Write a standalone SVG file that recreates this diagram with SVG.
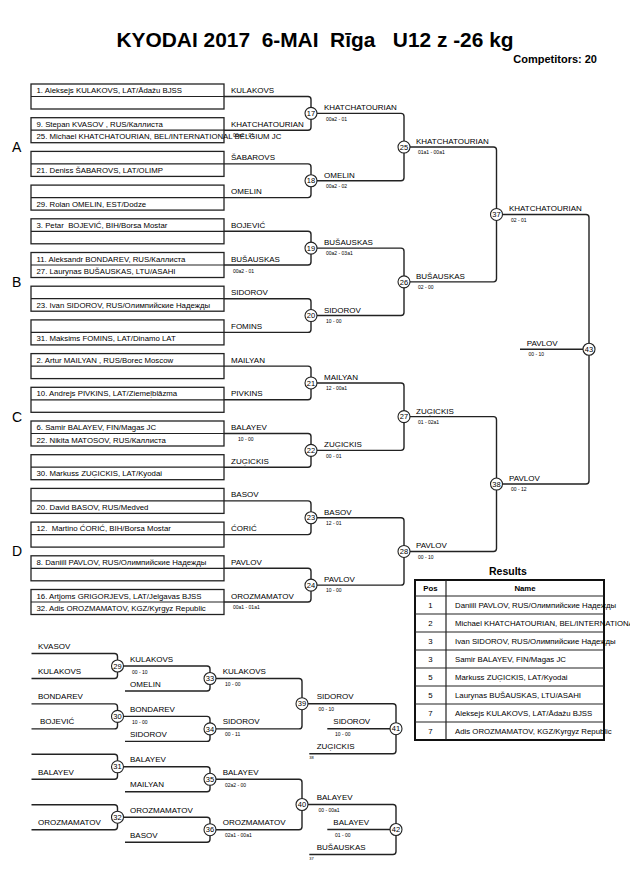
<svg xmlns="http://www.w3.org/2000/svg" width="630" height="891" viewBox="0 0 630 891">
<style>
text{font-family:"Liberation Sans",Arial,sans-serif;fill:#000}
.bx{fill:none;stroke:#222;stroke-width:1.3}
.dv{stroke:#222;stroke-width:1.2}
.ln{fill:none;stroke:#222;stroke-width:1.4}
.lb{font-size:8px}
.sc{font-size:5px}
.bt{font-size:7.8px}
.cn{fill:#fff;stroke:#222;stroke-width:1.1}
.cnt{font-size:7.5px;text-anchor:middle}
.pl{font-size:14px}
.tiny{font-size:4px}
.tb{font-size:7.8px}
</style>
<rect width="630" height="891" fill="#fff"/>
<g id="title">
<text x="116.5" y="46.5" font-size="20.9" font-weight="bold" xml:space="preserve">KYODAI 2017  6-MAI  Rīga   U12 z -26 kg</text>
<text x="597" y="63" font-size="11" font-weight="bold" text-anchor="end">Competitors: 20</text>
</g>
<g id="pools">
<text class="pl" x="12" y="152">A</text>
<text class="pl" x="12" y="287">B</text>
<text class="pl" x="12" y="421.5">C</text>
<text class="pl" x="12" y="556">D</text>
</g>
<g id="connectors">
<path class="ln" d="M224,96.5 H308 Q311,96.5 311,99.5 V127.2 Q311,130.2 308,130.2 H224"/>
<path class="ln" d="M224,163.9 H308 Q311,163.9 311,166.9 V194.6 Q311,197.6 308,197.6 H224"/>
<path class="ln" d="M224,231.3 H308 Q311,231.3 311,234.3 V262 Q311,265 308,265 H224"/>
<path class="ln" d="M224,298.7 H308 Q311,298.7 311,301.7 V329.4 Q311,332.4 308,332.4 H224"/>
<path class="ln" d="M224,366.1 H308 Q311,366.1 311,369.1 V396.8 Q311,399.8 308,399.8 H224"/>
<path class="ln" d="M224,433.5 H308 Q311,433.5 311,436.5 V464.2 Q311,467.2 308,467.2 H224"/>
<path class="ln" d="M224,500.9 H308 Q311,500.9 311,503.9 V531.6 Q311,534.6 308,534.6 H224"/>
<path class="ln" d="M224,568.3 H308 Q311,568.3 311,571.3 V599 Q311,602 308,602 H224"/>
<path class="ln" d="M311,113.35 H401 Q404,113.35 404,116.35 V177.75 Q404,180.75 401,180.75 H311"/>
<path class="ln" d="M311,248.15 H401 Q404,248.15 404,251.15 V312.55 Q404,315.55 401,315.55 H311"/>
<path class="ln" d="M311,382.95 H401 Q404,382.95 404,385.95 V447.35 Q404,450.35 401,450.35 H311"/>
<path class="ln" d="M311,517.75 H401 Q404,517.75 404,520.75 V582.15 Q404,585.15 401,585.15 H311"/>
<path class="ln" d="M404,147.05 H493.5 Q496.5,147.05 496.5,150.05 V278.85 Q496.5,281.85 493.5,281.85 H404"/>
<path class="ln" d="M404,416.65 H493.5 Q496.5,416.65 496.5,419.65 V548.45 Q496.5,551.45 493.5,551.45 H404"/>
<path class="ln" d="M496.5,214.45 H586 Q589,214.45 589,217.45 V481.05 Q589,484.05 586,484.05 H496.5"/>
<path class="ln" d="M520,349.25 H589"/>
<path class="ln" d="M31.5,653.5 H114.5 Q117.5,653.5 117.5,656.5 V675.5 Q117.5,678.5 114.5,678.5 H31.5"/>
<path class="ln" d="M31.5,703.9 H114.5 Q117.5,703.9 117.5,706.9 V725.9 Q117.5,728.9 114.5,728.9 H31.5"/>
<path class="ln" d="M31.5,754.3 H114.5 Q117.5,754.3 117.5,757.3 V776.3 Q117.5,779.3 114.5,779.3 H31.5"/>
<path class="ln" d="M31.5,804.7 H114.5 Q117.5,804.7 117.5,807.7 V826.7 Q117.5,829.7 114.5,829.7 H31.5"/>
<path class="ln" d="M117.5,666 H207 Q210,666 210,669 V688 Q210,691 207,691 H125"/>
<path class="ln" d="M117.5,716.4 H207 Q210,716.4 210,719.4 V738.4 Q210,741.4 207,741.4 H125"/>
<path class="ln" d="M117.5,766.8 H207 Q210,766.8 210,769.8 V788.8 Q210,791.8 207,791.8 H125"/>
<path class="ln" d="M117.5,817.2 H207 Q210,817.2 210,820.2 V839.2 Q210,842.2 207,842.2 H125"/>
<path class="ln" d="M210,678.5 H299 Q302,678.5 302,681.5 V725.9 Q302,728.9 299,728.9 H210"/>
<path class="ln" d="M210,779.3 H299 Q302,779.3 302,782.3 V826.7 Q302,829.7 299,829.7 H210"/>
<path class="ln" d="M302,703.7 H393 Q396,703.7 396,706.7 V750.7 Q396,753.7 393,753.7 H309.3"/>
<path class="ln" d="M327.3,728.7 H396"/>
<path class="ln" d="M302,804.5 H393 Q396,804.5 396,807.5 V851.5 Q396,854.5 393,854.5 H309.3"/>
<path class="ln" d="M327.3,829.5 H396"/>
</g>
<g id="box0"><rect class="bx" x="31" y="84" width="193" height="25"/><line class="dv" x1="31" y1="96.5" x2="224" y2="96.5"/><text class="bt" x="36.5" y="93">1. Aleksejs KULAKOVS, LAT/Ādažu BJSS</text><text class="lb" x="231" y="93">KULAKOVS</text></g>
<g id="box1"><rect class="bx" x="31" y="117.7" width="193" height="25"/><line class="dv" x1="31" y1="130.2" x2="224" y2="130.2"/><text class="bt" x="36.5" y="126.7">9. Stepan KVASOV , RUS/Каллиста</text><text class="bt" x="36.5" y="139.2">25. Michael KHATCHATOURIAN, BEL/INTERNATIONAL BELGIUM JC</text><text class="lb" x="231" y="126.7">KHATCHATOURIAN</text><text class="sc" x="233" y="136.5">00a2 - 01</text></g>
<g id="box2"><rect class="bx" x="31" y="151.4" width="193" height="25"/><line class="dv" x1="31" y1="163.9" x2="224" y2="163.9"/><text class="bt" x="36.5" y="172.9">21. Deniss ŠABAROVS, LAT/OLIMP</text><text class="lb" x="231" y="160.4">ŠABAROVS</text></g>
<g id="box3"><rect class="bx" x="31" y="185.1" width="193" height="25"/><line class="dv" x1="31" y1="197.6" x2="224" y2="197.6"/><text class="bt" x="36.5" y="206.6">29. Rolan OMELIN, EST/Dodze</text><text class="lb" x="231" y="194.1">OMELIN</text></g>
<g id="box4"><rect class="bx" x="31" y="218.8" width="193" height="25"/><line class="dv" x1="31" y1="231.3" x2="224" y2="231.3"/><text class="bt" x="36.5" y="227.8" xml:space="preserve">3. Petar  BOJEVIĆ, BIH/Borsa Mostar</text><text class="lb" x="231" y="227.8">BOJEVIĆ</text></g>
<g id="box5"><rect class="bx" x="31" y="252.5" width="193" height="25"/><line class="dv" x1="31" y1="265" x2="224" y2="265"/><text class="bt" x="36.5" y="261.5">11. Aleksandr BONDAREV, RUS/Каллиста</text><text class="bt" x="36.5" y="274">27. Laurynas BUŠAUSKAS, LTU/ASAHI</text><text class="lb" x="231" y="261.5">BUŠAUSKAS</text><text class="sc" x="233" y="272.5">00a2 - 01</text></g>
<g id="box6"><rect class="bx" x="31" y="286.2" width="193" height="25"/><line class="dv" x1="31" y1="298.7" x2="224" y2="298.7"/><text class="bt" x="36.5" y="307.7">23. Ivan SIDOROV, RUS/Олимпийские Надежды</text><text class="lb" x="231" y="295.2">SIDOROV</text></g>
<g id="box7"><rect class="bx" x="31" y="319.9" width="193" height="25"/><line class="dv" x1="31" y1="332.4" x2="224" y2="332.4"/><text class="bt" x="36.5" y="341.4">31. Maksims FOMINS, LAT/Dinamo LAT</text><text class="lb" x="231" y="328.9">FOMINS</text></g>
<g id="box8"><rect class="bx" x="31" y="353.6" width="193" height="25"/><line class="dv" x1="31" y1="366.1" x2="224" y2="366.1"/><text class="bt" x="36.5" y="362.6">2. Artur MAILYAN , RUS/Borec Moscow</text><text class="lb" x="231" y="362.6">MAILYAN</text></g>
<g id="box9"><rect class="bx" x="31" y="387.3" width="193" height="25"/><line class="dv" x1="31" y1="399.8" x2="224" y2="399.8"/><text class="bt" x="36.5" y="396.3">10. Andrejs PIVKINS, LAT/Ziemeļblāzma</text><text class="lb" x="231" y="396.3">PIVKINS</text></g>
<g id="box10"><rect class="bx" x="31" y="421" width="193" height="25"/><line class="dv" x1="31" y1="433.5" x2="224" y2="433.5"/><text class="bt" x="36.5" y="430">6. Samir BALAYEV, FIN/Magas JC</text><text class="bt" x="36.5" y="442.5">22. Nikita MATOSOV, RUS/Каллиста</text><text class="lb" x="231" y="430">BALAYEV</text><text class="sc" x="238" y="440.5">10 - 00</text></g>
<g id="box11"><rect class="bx" x="31" y="454.7" width="193" height="25"/><line class="dv" x1="31" y1="467.2" x2="224" y2="467.2"/><text class="bt" x="36.5" y="476.2">30. Markuss ZUĢICKIS, LAT/Kyodai</text><text class="lb" x="231" y="463.7">ZUĢICKIS</text></g>
<g id="box12"><rect class="bx" x="31" y="488.4" width="193" height="25"/><line class="dv" x1="31" y1="500.9" x2="224" y2="500.9"/><text class="bt" x="36.5" y="509.9">20. David BASOV, RUS/Medved</text><text class="lb" x="231" y="497.4">BASOV</text></g>
<g id="box13"><rect class="bx" x="31" y="522.1" width="193" height="25"/><line class="dv" x1="31" y1="534.6" x2="224" y2="534.6"/><text class="bt" x="36.5" y="531.1" xml:space="preserve">12.  Martino ĆORIĆ, BIH/Borsa Mostar</text><text class="lb" x="231" y="531.1">ĆORIĆ</text></g>
<g id="box14"><rect class="bx" x="31" y="555.8" width="193" height="25"/><line class="dv" x1="31" y1="568.3" x2="224" y2="568.3"/><text class="bt" x="36.5" y="564.8">8. Daniill PAVLOV, RUS/Олимпийские Надежды</text><text class="lb" x="231" y="564.8">PAVLOV</text></g>
<g id="box15"><rect class="bx" x="31" y="589.5" width="193" height="25"/><line class="dv" x1="31" y1="602" x2="224" y2="602"/><text class="bt" x="36.5" y="598.5">16. Artjoms GRIGORJEVS, LAT/Jelgavas BJSS</text><text class="bt" x="36.5" y="611">32. Adis OROZMAMATOV, KGZ/Kyrgyz Republic</text><text class="lb" x="231" y="598.5">OROZMAMATOV</text><text class="sc" x="233" y="608.5">00a1 - 01a1</text></g>
<g id="m17"><circle class="cn" cx="311" cy="113.35" r="6"/><text class="cnt" x="311" y="116">17</text><text class="lb" x="324" y="110.35">KHATCHATOURIAN</text><text class="sc" x="326" y="120.5">00a2 - 01</text></g>
<g id="m18"><circle class="cn" cx="311" cy="180.75" r="6"/><text class="cnt" x="311" y="183.4">18</text><text class="lb" x="324" y="177.75">OMELIN</text><text class="sc" x="326" y="187.9">00a2 - 02</text></g>
<g id="m19"><circle class="cn" cx="311" cy="248.15" r="6"/><text class="cnt" x="311" y="250.8">19</text><text class="lb" x="324" y="245.15">BUŠAUSKAS</text><text class="sc" x="326" y="255.3">00a2 - 03a1</text></g>
<g id="m20"><circle class="cn" cx="311" cy="315.55" r="6"/><text class="cnt" x="311" y="318.2">20</text><text class="lb" x="324" y="312.55">SIDOROV</text><text class="sc" x="326" y="322.7">10 - 00</text></g>
<g id="m21"><circle class="cn" cx="311" cy="382.95" r="6"/><text class="cnt" x="311" y="385.6">21</text><text class="lb" x="324" y="379.95">MAILYAN</text><text class="sc" x="326" y="390.1">12 - 00a1</text></g>
<g id="m22"><circle class="cn" cx="311" cy="450.35" r="6"/><text class="cnt" x="311" y="453">22</text><text class="lb" x="324" y="447.35">ZUĢICKIS</text><text class="sc" x="326" y="457.5">00 - 01</text></g>
<g id="m23"><circle class="cn" cx="311" cy="517.75" r="6"/><text class="cnt" x="311" y="520.4">23</text><text class="lb" x="324" y="514.75">BASOV</text><text class="sc" x="326" y="524.9">12 - 01</text></g>
<g id="m24"><circle class="cn" cx="311" cy="585.15" r="6"/><text class="cnt" x="311" y="587.8">24</text><text class="lb" x="324" y="582.15">PAVLOV</text><text class="sc" x="326" y="592.3">10 - 00</text></g>
<g id="m25"><circle class="cn" cx="404" cy="147.05" r="6"/><text class="cnt" x="404" y="149.7">25</text><text class="lb" x="416" y="144.05">KHATCHATOURIAN</text><text class="sc" x="418" y="154.2">01a1 - 00a1</text></g>
<g id="m26"><circle class="cn" cx="404" cy="281.85" r="6"/><text class="cnt" x="404" y="284.5">26</text><text class="lb" x="416" y="278.85">BUŠAUSKAS</text><text class="sc" x="418" y="289">02 - 00</text></g>
<g id="m27"><circle class="cn" cx="404" cy="416.65" r="6"/><text class="cnt" x="404" y="419.3">27</text><text class="lb" x="416" y="413.65">ZUĢICKIS</text><text class="sc" x="418" y="423.8">01 - 02a1</text></g>
<g id="m28"><circle class="cn" cx="404" cy="551.45" r="6"/><text class="cnt" x="404" y="554.1">28</text><text class="lb" x="416" y="548.45">PAVLOV</text><text class="sc" x="418" y="558.6">00 - 10</text></g>
<g id="m37"><circle class="cn" cx="496.5" cy="214.45" r="6"/><text class="cnt" x="496.5" y="217.1">37</text><text class="lb" x="509" y="211.45">KHATCHATOURIAN</text><text class="sc" x="511" y="221.6">02 - 01</text></g>
<g id="m38"><circle class="cn" cx="496.5" cy="484.05" r="6"/><text class="cnt" x="496.5" y="486.7">38</text><text class="lb" x="509" y="481.05">PAVLOV</text><text class="sc" x="511" y="491.2">00 - 12</text></g>
<g id="m43"><circle class="cn" cx="589" cy="349.25" r="6"/><text class="cnt" x="589" y="351.9">43</text><text class="lb" x="526.7" y="346.25">PAVLOV</text><text class="sc" x="528.5" y="356.4">00 - 10</text></g>
<g id="r29"><text class="lb" x="38" y="649">KVASOV</text><text class="lb" x="38" y="674">KULAKOVS</text><circle class="cn" cx="117.5" cy="666" r="6"/><text class="cnt" x="117.5" y="668.6">29</text></g>
<g id="r30"><text class="lb" x="38" y="699.4">BONDAREV</text><text class="lb" x="40" y="724.4">BOJEVIĆ</text><circle class="cn" cx="117.5" cy="716.4" r="6"/><text class="cnt" x="117.5" y="719">30</text></g>
<g id="r31"><text class="lb" x="38" y="774.8">BALAYEV</text><circle class="cn" cx="117.5" cy="766.8" r="6"/><text class="cnt" x="117.5" y="769.4">31</text></g>
<g id="r32"><text class="lb" x="38" y="825.2">OROZMAMATOV</text><circle class="cn" cx="117.5" cy="817.2" r="6"/><text class="cnt" x="117.5" y="819.8">32</text></g>
<g id="r33"><text class="lb" x="130" y="661.5">KULAKOVS</text><text class="sc" x="132" y="673.5">00 - 10</text><text class="lb" x="130" y="686.5">OMELIN</text><circle class="cn" cx="210" cy="678.5" r="6"/><text class="cnt" x="210" y="681.1">33</text></g>
<g id="r34"><text class="lb" x="130" y="711.9">BONDAREV</text><text class="sc" x="132" y="723.9">10 - 00</text><text class="lb" x="130" y="736.9">SIDOROV</text><circle class="cn" cx="210" cy="728.9" r="6"/><text class="cnt" x="210" y="731.5">34</text></g>
<g id="r35"><text class="lb" x="130" y="762.3">BALAYEV</text><text class="lb" x="130" y="787.3">MAILYAN</text><circle class="cn" cx="210" cy="779.3" r="6"/><text class="cnt" x="210" y="781.9">35</text></g>
<g id="r36"><text class="lb" x="130" y="812.7">OROZMAMATOV</text><text class="lb" x="130" y="837.7">BASOV</text><circle class="cn" cx="210" cy="829.7" r="6"/><text class="cnt" x="210" y="832.3">36</text></g>
<g id="r39"><text class="lb" x="222.7" y="674">KULAKOVS</text><text class="sc" x="225" y="686">10 - 00</text><text class="lb" x="222.7" y="724.4">SIDOROV</text><text class="sc" x="225" y="736.4">00 - 11</text><circle class="cn" cx="302" cy="703.7" r="6"/><text class="cnt" x="302" y="706.3">39</text></g>
<g id="r40"><text class="lb" x="222.7" y="774.8">BALAYEV</text><text class="sc" x="225" y="786.8">02a2 - 00</text><text class="lb" x="222.7" y="825.2">OROZMAMATOV</text><text class="sc" x="225" y="837.2">02a1 - 00a1</text><circle class="cn" cx="302" cy="804.5" r="6"/><text class="cnt" x="302" y="807.1">40</text></g>
<g id="r41"><text class="lb" x="316.7" y="699.2">SIDOROV</text><text class="sc" x="318.5" y="711.2">00 - 10</text><text class="lb" x="333.3" y="724.2">SIDOROV</text><text class="sc" x="335" y="736.2">10 - 00</text><text class="lb" x="316.7" y="749.2">ZUĢICKIS</text><text class="tiny" x="309.3" y="759">38</text><circle class="cn" cx="396" cy="728.7" r="6"/><text class="cnt" x="396" y="731.3">41</text></g>
<g id="r42"><text class="lb" x="316.7" y="800">BALAYEV</text><text class="sc" x="318.5" y="812">00 - 00a1</text><text class="lb" x="333.3" y="825">BALAYEV</text><text class="sc" x="335" y="837">01 - 00</text><text class="lb" x="316.7" y="850">BUŠAUSKAS</text><text class="tiny" x="309.3" y="860">37</text><circle class="cn" cx="396" cy="829.5" r="6"/><text class="cnt" x="396" y="832.1">42</text></g>
<g id="results">
<text x="508" y="575" font-size="10.5" font-weight="bold" text-anchor="middle">Results</text>
<rect x="415" y="580" width="189" height="160" fill="none" stroke="#111" stroke-width="2"/>
<line class="dv" x1="446" y1="580" x2="446" y2="740"/>
<g class="dv">
<line x1="415" y1="596" x2="604" y2="596"/><line x1="415" y1="614" x2="604" y2="614"/><line x1="415" y1="632" x2="604" y2="632"/><line x1="415" y1="650" x2="604" y2="650"/><line x1="415" y1="668" x2="604" y2="668"/><line x1="415" y1="686" x2="604" y2="686"/><line x1="415" y1="704" x2="604" y2="704"/><line x1="415" y1="722" x2="604" y2="722"/>
</g>
<text class="tb" x="430.5" y="591" text-anchor="middle" font-weight="bold">Pos</text>
<text class="tb" x="525" y="591" text-anchor="middle" font-weight="bold">Name</text>
<g class="tb">
<text x="430.5" y="607.7" text-anchor="middle">1</text><text x="455" y="607.7">Daniill PAVLOV, RUS/Олимпийские Надежды</text>
<text x="430.5" y="625.7" text-anchor="middle">2</text><text x="455" y="625.7">Michael KHATCHATOURIAN, BEL/INTERNATIONAL BELGIUM JC</text>
<text x="430.5" y="643.7" text-anchor="middle">3</text><text x="455" y="643.7">Ivan SIDOROV, RUS/Олимпийские Надежды</text>
<text x="430.5" y="661.7" text-anchor="middle">3</text><text x="455" y="661.7">Samir BALAYEV, FIN/Magas JC</text>
<text x="430.5" y="679.7" text-anchor="middle">5</text><text x="455" y="679.7">Markuss ZUĢICKIS, LAT/Kyodai</text>
<text x="430.5" y="697.7" text-anchor="middle">5</text><text x="455" y="697.7">Laurynas BUŠAUSKAS, LTU/ASAHI</text>
<text x="430.5" y="715.7" text-anchor="middle">7</text><text x="455" y="715.7">Aleksejs KULAKOVS, LAT/Ādažu BJSS</text>
<text x="430.5" y="733.7" text-anchor="middle">7</text><text x="455" y="733.7">Adis OROZMAMATOV, KGZ/Kyrgyz Republic</text>
</g>
</g>
</svg>
